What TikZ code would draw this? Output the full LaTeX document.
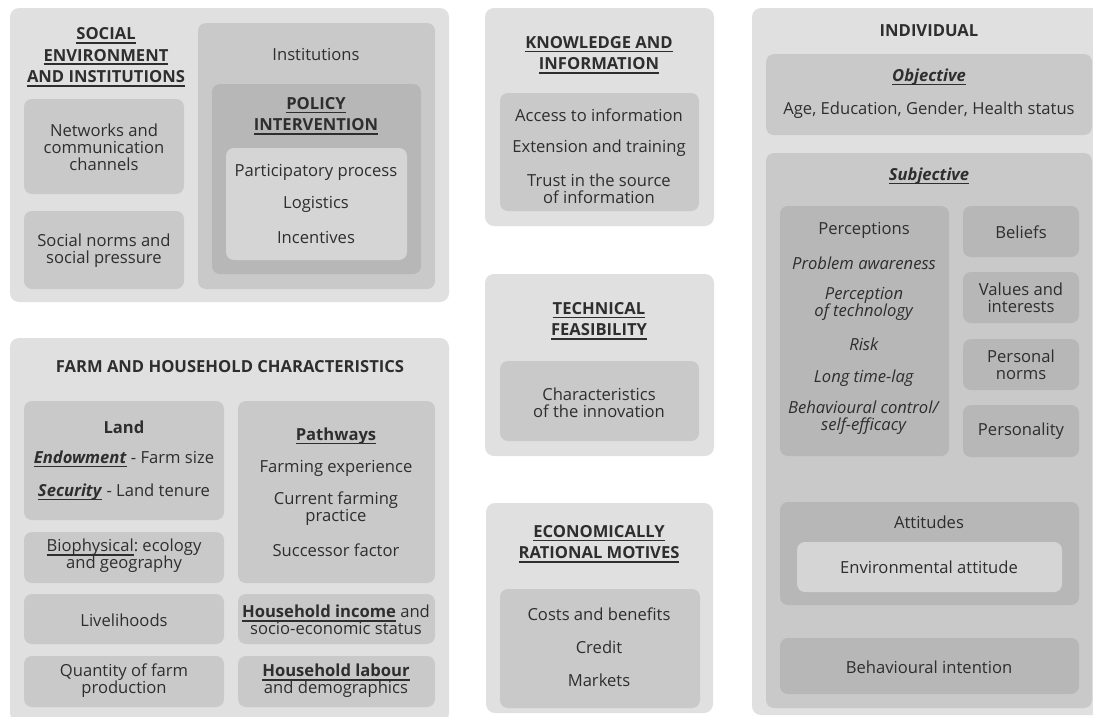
\documentclass[tikz,border=0pt]{standalone}
\usepackage{fontspec}
\setmainfont{Open Sans}
\usetikzlibrary{positioning}
\frenchspacing

\definecolor{panelgray}{HTML}{E0E0E0}
\definecolor{boxgray}{HTML}{C9C9C9}
\definecolor{darkgray}{HTML}{B7B7B7}
\definecolor{litegray}{HTML}{D5D5D5}
\definecolor{textgray}{HTML}{2E2E2E}

% underline drawn as a rule under the word
\newcommand{\uln}[1]{\setbox0\hbox{#1}\leavevmode\makebox[0pt][l]{\rule[-4pt]{\wd0}{1.6pt}}\box0\relax}

\begin{document}
\begin{tikzpicture}[x=1pt, y=-1pt, font=\fontsize{16.6}{17}\selectfont, text=textgray]
        \tikzset{
            panel/.style={fill=panelgray, rounded corners=9pt},
            box/.style={fill=boxgray, rounded corners=8pt},
            darkbox/.style={fill=darkgray, rounded corners=8pt},
            litebox/.style={fill=litegray, rounded corners=8pt},
            txt/.style={align=center, inner sep=0pt},
            head/.style={txt, font=\fontsize{16.6}{17}\selectfont\bfseries}
        }
        \useasboundingbox (0,0) rectangle (1093,716);
        \clip (0,0) rectangle (1093,716);

        % social environment
        \fill[panel]   (10,8) rectangle (449,302);
        \fill[box]     (24,99) rectangle (184,194);
        \fill[box]     (24,211) rectangle (184,289);
        \fill[box]     (198,23) rectangle (435,289);
        \fill[darkbox] (212,84) rectangle (421,274);
        \fill[litebox] (226,148) rectangle (407,260);
        \node[head] (Social)   at (106,57)  {\uln{SOCIAL}\\[4.5pt]\uln{ENVIRONMENT}\\[4.5pt]\uln{AND INSTITUTIONS}};
        \node[txt]  (Networks) at (104,147) {Networks and\\communication\\channels};
        \node[txt]  (Norms)    at (104,251) {Social norms and\\social pressure};
        \node[txt]  (Inst)     at (316,54)  {Institutions};
        \node[head] (Policy)   at (316,116) {\uln{POLICY}\\[4.5pt]\uln{INTERVENTION}};
        \node[txt]  (Partic)   at (316,172) {Participatory process};
        \node[txt]  (Logist)   at (316,204) {Logistics};
        \node[txt]  (Incent)   at (316,237) {Incentives};

        % knowledge
        \fill[panel] (485,8) rectangle (714,226);
        \fill[box]   (500,93) rectangle (699,211);
        \node[head] (Know)   at (599,55)  {\uln{KNOWLEDGE AND}\\[4.5pt]\uln{INFORMATION}};
        \node[txt]  (Access) at (599,115) {Access to information};
        \node[txt]  (Extens) at (599,148) {Extension and training};
        \node[txt]  (Trust)  at (599,189) {Trust in the source\\of information};

        % technical feasibility
        \fill[panel] (485,274) rectangle (714,456);
        \fill[box]   (500,361) rectangle (699,441);
        \node[head] (Tech)  at (599,321) {\uln{TECHNICAL}\\[4.5pt]\uln{FEASIBILITY}};
        \node[txt]  (Innov) at (599,403) {Characteristics\\of the innovation};

        % economic motives
        \fill[panel] (486,503) rectangle (713,713);
        \fill[box]   (500,589) rectangle (700,708);
        \node[head] (Econ)    at (599,544) {\uln{ECONOMICALLY}\\[4.5pt]\uln{RATIONAL MOTIVES}};
        \node[txt]  (Costs)   at (599,614) {Costs and benefits};
        \node[txt]  (Credit)  at (599,647) {Credit};
        \node[txt]  (Markets) at (599,680) {Markets};

        % farm and household
        \fill[panel] (10,338) rectangle (449,722);
        \fill[box]   (24,401) rectangle (224,520);
        \fill[box]   (238,401) rectangle (435,583);
        \fill[box]   (24,532) rectangle (224,583);
        \fill[box]   (24,594) rectangle (224,644);
        \fill[box]   (238,594) rectangle (435,644);
        \fill[box]   (24,656) rectangle (224,707);
        \fill[box]   (238,656) rectangle (435,707);
        \node[head] (Farm)     at (230,367) {FARM AND HOUSEHOLD CHARACTERISTICS};
        \node[head] (Land)     at (124,427) {Land};
        \node[txt]  (Endow)    at (124,459) {\uln{\textbf{\textit{Endowment}}} - Farm size};
        \node[txt]  (Secur)    at (124,492) {\uln{\textbf{\textit{Security}}} - Land tenure};
        \node[txt]  (Bio)      at (124,556) {\uln{Biophysical}: ecology\\and geography};
        \node[txt]  (Liveli)   at (124,620) {Livelihoods};
        \node[txt]  (Quant)    at (124,681) {Quantity of farm\\production};
        \node[head] (Path)     at (336,436) {\uln{Pathways}};
        \node[txt]  (Exper)    at (336,468) {Farming experience};
        \node[txt]  (Practice) at (336,509) {Current farming\\practice};
        \node[txt]  (Success)  at (336,550) {Successor factor};
        \node[txt]  (Income)   at (336,620) {\uln{\textbf{Household income}} and\\socio-economic status};
        \node[txt]  (Labour)   at (336,681) {\uln{\textbf{Household labour}}\\and demographics};

        % individual
        \fill[panel]   (752,8) rectangle (1110,715);
        \fill[box]     (766,54) rectangle (1092,135);
        \fill[box]     (766,153) rectangle (1092,708);
        \fill[darkbox] (780,206) rectangle (949,456);
        \fill[darkbox] (963,206) rectangle (1079,257);
        \fill[darkbox] (963,272) rectangle (1079,323);
        \fill[darkbox] (963,339) rectangle (1079,390);
        \fill[darkbox] (963,405) rectangle (1079,457);
        \fill[darkbox] (780,502) rectangle (1079,605);
        \fill[litebox] (797,542) rectangle (1062,592);
        \fill[darkbox] (780,638) rectangle (1079,694);
        \node[head] (Indiv)   at (929,31)  {INDIVIDUAL};
        \node[head] (Obj)     at (929,77)  {\uln{\textit{Objective}}};
        \node[txt]  (Age)     at (929,110) {Age, Education, Gender, Health status};
        \node[head] (Subj)    at (929,176) {\uln{\textit{Subjective}}};
        \node[txt]  (Percep)  at (864,230) {Perceptions};
        \node[txt]  (Problem) at (864,263) {\textit{Problem awareness}};
        \node[txt]  (PTech)   at (864,304) {\textit{Perception}\\\textit{of technology}};
        \node[txt]  (Risk)    at (864,344) {\textit{Risk}};
        \node[txt]  (Lag)     at (864,378) {\textit{Long time-lag}};
        \node[txt]  (Control) at (864,418) {\textit{Behavioural control/}\\\textit{self-efficacy}};
        \node[txt]  (Belief)  at (1021,232) {Beliefs};
        \node[txt]  (Values)  at (1021,298) {Values and\\interests};
        \node[txt]  (PNorms)  at (1021,365) {Personal\\norms};
        \node[txt]  (Person)  at (1021,431) {Personality};
        \node[txt]  (Attit)   at (929,522) {Attitudes};
        \node[txt]  (EnvAtt)  at (929,567) {Environmental attitude};
        \node[txt]  (Intent)  at (929,667) {Behavioural intention};
\end{tikzpicture}
\end{document}
